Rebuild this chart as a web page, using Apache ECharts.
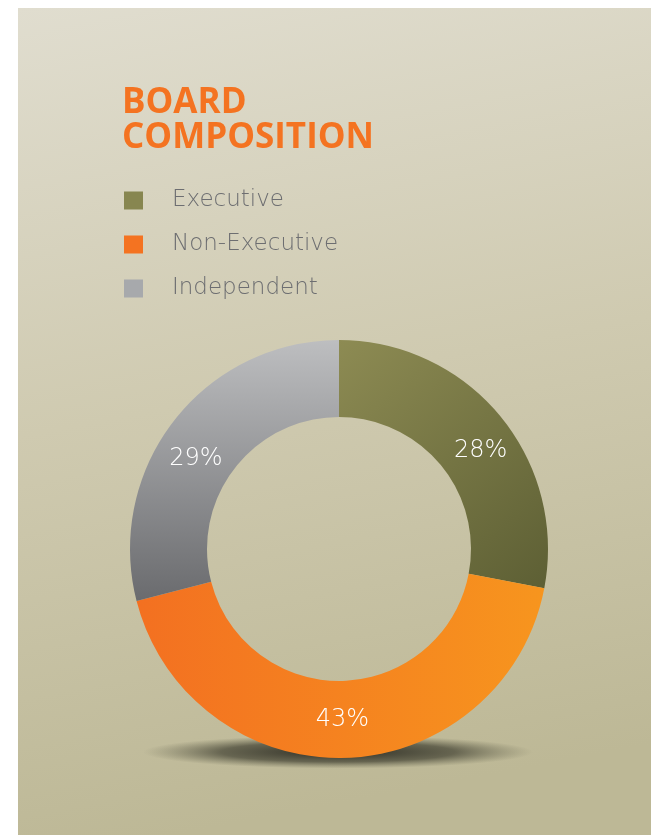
<!DOCTYPE html>
<html>
<head>
<meta charset="utf-8">
<script src="https://cdn.jsdelivr.net/npm/echarts@6/dist/echarts.min.js"></script>
<style>
html,body{margin:0;padding:0;background:#fff;}
#chart{width:651px;height:835px;}
</style>
</head>
<body>
<div id="chart"></div>
<script>
var categories = ['Executive', 'Non-Executive', 'Independent'];
var values = [28, 43, 29];
var legendColors = ['#878650', '#f47321', '#a7a9ac'];
var sliceGradients = [
  {x: 0, y: 0, x2: 1, y2: 1, stops: ['#8d8b53', '#5d5f34']},
  {x: 0, y: 0, x2: 1, y2: 0, stops: ['#f37021', '#f7951e']},
  {x: 0, y: 0, x2: 0, y2: 1, stops: ['#bdbec0', '#6a6b6e']}
];
var labelOffsets = [[8, 12], [-2, -3], [-6, 16]];

var chart = echarts.init(document.getElementById('chart'), null, {renderer: 'canvas'});

var data = categories.map(function (c, i) {
  var g = sliceGradients[i];
  return {
    name: c,
    value: values[i],
    label: {offset: labelOffsets[i]},
    itemStyle: {
      color: new echarts.graphic.LinearGradient(g.x, g.y, g.x2, g.y2, [
        {offset: 0, color: g.stops[0]},
        {offset: 1, color: g.stops[1]}
      ])
    }
  };
});

chart.setOption({
  animation: false,
  graphic: [
    {
      type: 'rect', z: -10, silent: true,
      shape: {x: 18, y: 8, width: 633, height: 827},
      style: {
        fill: new echarts.graphic.LinearGradient(0, 0, 0.25, 1, [
          {offset: 0, color: '#e0ddcf'},
          {offset: 0.5, color: '#cfcab0'},
          {offset: 1, color: '#bdb896'}
        ])
      }
    },
    {
      type: 'circle', z: -5, silent: true,
      x: 338, y: 752, scaleY: 0.085,
      shape: {cx: 0, cy: 0, r: 195},
      style: {
        fill: new echarts.graphic.RadialGradient(0.5, 0.5, 0.5, [
          {offset: 0, color: 'rgba(35,35,28,0.95)'},
          {offset: 0.6, color: 'rgba(55,55,42,0.65)'},
          {offset: 1, color: 'rgba(90,90,70,0)'}
        ])
      }
    }
  ],
  title: {
    text: 'BOARD\nCOMPOSITION',
    left: 122,
    top: 86,
    padding: 0,
    textStyle: {
      color: '#f47321',
      fontFamily: 'Open Sans',
      fontWeight: 'bold',
      fontSize: 35,
      lineHeight: 35
    }
  },
  legend: {
    orient: 'vertical',
    left: 124,
    top: 189,
    padding: 0,
    icon: 'rect',
    itemWidth: 19,
    itemHeight: 18,
    itemGap: 21,
    selectedMode: false,
    data: categories.map(function (c, i) {
      return {name: c, itemStyle: {color: legendColors[i]}};
    }),
    textStyle: {
      color: '#6d6e71',
      fontFamily: 'DejaVu Sans',
      fontWeight: 200,
      fontSize: 23,
      lineHeight: 18,
      padding: [0, 0, 0, 24]
    }
  },
  series: [{
    type: 'pie',
    center: [339, 549],
    radius: [132, 209],
    startAngle: 90,
    clockwise: true,
    silent: true,
    data: data,
    label: {
      position: 'inside',
      formatter: '{c}%',
      color: '#ffffff',
      fontFamily: 'DejaVu Sans',
      fontWeight: 200,
      fontSize: 24
    },
    labelLine: {show: false},
    emphasis: {disabled: true}
  }]
});
</script>
</body>
</html>
